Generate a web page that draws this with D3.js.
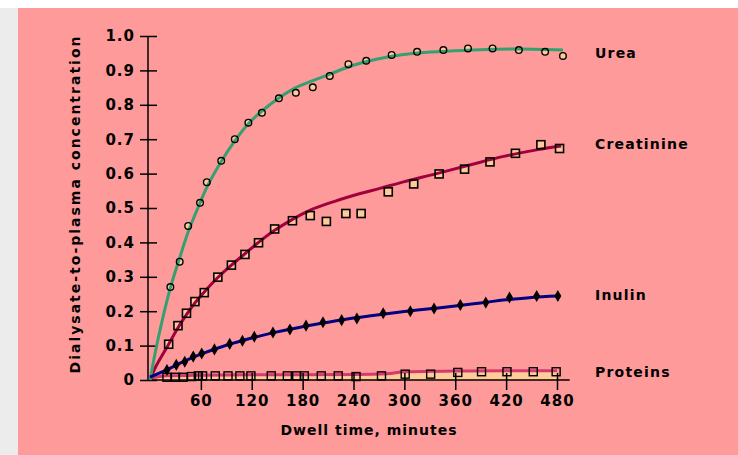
<!DOCTYPE html>
<html>
<head>
<meta charset="utf-8">
<script src="https://cdn.jsdelivr.net/npm/d3@7"></script>
<style>
  body { margin: 0; background: #fff; }
  text { font-family: "DejaVu Sans", sans-serif; font-weight: bold; fill: #000; }
</style>
</head>
<body>
<script>
// Dialysate-to-plasma concentration over dwell time (minutes)

// measured points
const ureaT = [24, 35, 45, 59, 67, 84, 100, 116, 132, 152, 172, 192, 212, 234, 255, 285, 315, 346, 375, 404, 435, 466, 487];
const ureaV = [0.27, 0.344, 0.448, 0.515, 0.575, 0.637, 0.70, 0.748, 0.777, 0.819, 0.835, 0.851, 0.884, 0.918, 0.928, 0.945, 0.954, 0.959, 0.964, 0.964, 0.959, 0.954, 0.942];

const creatT = [22, 33, 43, 53, 64, 80, 96, 112, 128, 147, 168, 189, 208, 231, 249, 281, 311, 341, 371, 401, 431, 461, 483];
const creatV = [0.104, 0.158, 0.194, 0.228, 0.254, 0.299, 0.334, 0.365, 0.399, 0.439, 0.463, 0.478, 0.461, 0.484, 0.484, 0.547, 0.570, 0.599, 0.613, 0.634, 0.659, 0.684, 0.673];

const inulinT = [20, 31, 41, 51, 61, 76, 94, 109, 123, 145, 165, 184, 204, 226, 244, 275, 307, 335, 366, 396, 424, 456, 481];
const inulinV = [0.029, 0.044, 0.053, 0.068, 0.077, 0.089, 0.105, 0.114, 0.126, 0.138, 0.147, 0.158, 0.168, 0.174, 0.179, 0.194, 0.200, 0.208, 0.218, 0.225, 0.240, 0.244, 0.244];

const protT = [20, 30, 39, 49, 57, 62, 77, 92, 106, 119, 143, 162, 173, 182, 202, 222, 243, 273, 301, 331, 363, 391, 421, 452, 479];
const protV = [0.008, 0.008, 0.008, 0.01, 0.012, 0.012, 0.012, 0.012, 0.012, 0.012, 0.012, 0.012, 0.012, 0.012, 0.012, 0.012, 0.01, 0.012, 0.017, 0.017, 0.022, 0.024, 0.024, 0.024, 0.024];

// fitted curves
const ureaFitT = [0, 10, 24, 35, 45, 59, 67, 84, 100, 116, 132, 152, 172, 192, 213, 240, 279, 318, 358, 397, 436, 487];
const ureaFitV = [0, 0.125, 0.268, 0.355, 0.43, 0.515, 0.56, 0.635, 0.695, 0.745, 0.782, 0.82, 0.85, 0.87, 0.89, 0.915, 0.938, 0.951, 0.957, 0.961, 0.962, 0.959];

const creatFitT = [0, 6, 22, 33, 43, 53, 64, 80, 96, 112, 128, 147, 168, 189, 216, 248, 271, 299, 338, 377, 417, 456, 485];
const creatFitV = [0, 0.035, 0.104, 0.152, 0.19, 0.224, 0.256, 0.298, 0.334, 0.367, 0.40, 0.435, 0.467, 0.494, 0.518, 0.542, 0.557, 0.576, 0.60, 0.625, 0.65, 0.669, 0.68];

const inulinFitT = [0, 20, 40, 60, 90, 120, 150, 180, 210, 240, 270, 300, 330, 360, 390, 420, 450, 481];
const inulinFitV = [0.008, 0.03, 0.054, 0.075, 0.101, 0.122, 0.140, 0.155, 0.168, 0.180, 0.190, 0.199, 0.207, 0.215, 0.224, 0.233, 0.240, 0.244];

const protFitT = [0, 20, 60, 120, 240, 280, 300, 360, 420, 480];
const protFitV = [0.004, 0.012, 0.014, 0.015, 0.016, 0.018, 0.024, 0.026, 0.027, 0.027];

const xTicks = [60, 120, 180, 240, 300, 360, 420, 480];
const yTicks = [0, 0.1, 0.2, 0.3, 0.4, 0.5, 0.6, 0.7, 0.8, 0.9, 1.0];

const labels = [
    { name: "Urea", y: 58 },
    { name: "Creatinine", y: 149 },
    { name: "Inulin", y: 300 },
    { name: "Proteins", y: 377 }
];

const width = 738, height = 455;

const svg = d3.select("body").append("svg")
    .attr("width", width)
    .attr("height", height);

// page backdrop
svg.append("rect").attr("x", 0).attr("y", 8).attr("width", 18).attr("height", height - 8).attr("fill", "#ececec");
svg.append("rect").attr("x", 18).attr("y", 8).attr("width", width - 18).attr("height", height - 8).attr("fill", "#fe9a9a");

const x = d3.scaleLinear().domain([0, 480]).range([150, 557]);
const y = d3.scaleLinear().domain([0, 1]).range([380, 36]);

const zip = (ts, vs) => ts.map((t, i) => ({ t, v: vs[i] }));

const line = d3.line()
    .x(d => x(d.t))
    .y(d => y(d.v))
    .curve(d3.curveCatmullRom.alpha(0.5));

// protein band under the curve
const protFit = zip(protFitT, protFitV);
svg.append("path")
    .datum(protFit)
    .attr("fill", "#ffcc99")
    .attr("d", d3.area().x(d => x(d.t)).y0(y(0)).y1(d => y(d.v)).curve(d3.curveMonotoneX));
svg.append("path")
    .datum(protFit)
    .attr("fill", "none")
    .attr("stroke", "#d43a6e")
    .attr("stroke-width", 3)
    .attr("d", line.curve(d3.curveMonotoneX));
line.curve(d3.curveCatmullRom.alpha(0.5));

// axes
const yAxis = svg.append("g")
    .attr("transform", `translate(148,0)`)
    .call(d3.axisLeft(y).tickValues(yTicks).tickSize(8).tickPadding(5)
        .tickFormat(d => d === 0 ? "0" : d.toFixed(1)));
yAxis.select(".domain").remove();
yAxis.selectAll(".tick line").attr("x1", 9).attr("stroke-width", 1.5);
yAxis.selectAll("text").style("font-size", "15px").attr("letter-spacing", 1);
yAxis.append("line")
    .attr("x1", 0).attr("x2", 0)
    .attr("y1", y(1)).attr("y2", y(0))
    .attr("stroke", "#000").attr("stroke-width", 1.5);

const xAxis = svg.append("g")
    .attr("transform", `translate(0,${y(0)})`)
    .call(d3.axisBottom(x).tickValues(xTicks).tickSize(10).tickPadding(5));
xAxis.select(".domain").remove();
xAxis.selectAll(".tick line").attr("y1", -7).attr("stroke-width", 1.5);
xAxis.selectAll("text").style("font-size", "15px").attr("letter-spacing", 1);
xAxis.append("line")
    .attr("x1", 148).attr("x2", x(495))
    .attr("stroke", "#000").attr("stroke-width", 1.5);

// creatinine: marker fill, line, marker outline
const creat = zip(creatT, creatV);
svg.append("g").selectAll("rect")
    .data(creat)
    .join("rect")
    .attr("x", d => x(d.t) - 4).attr("y", d => y(d.v) - 4)
    .attr("width", 8).attr("height", 8)
    .attr("fill", "#ffcc99");
svg.append("path")
    .datum(zip(creatFitT, creatFitV))
    .attr("fill", "none")
    .attr("stroke", "#a0003c")
    .attr("stroke-width", 3)
    .attr("d", line);
svg.append("g").selectAll("rect")
    .data(creat)
    .join("rect")
    .attr("x", d => x(d.t) - 4).attr("y", d => y(d.v) - 4)
    .attr("width", 8).attr("height", 8)
    .attr("fill", "none").attr("stroke", "#000").attr("stroke-width", 1.6);

// urea
const urea = zip(ureaT, ureaV);
svg.append("g").selectAll("circle")
    .data(urea)
    .join("circle")
    .attr("cx", d => x(d.t)).attr("cy", d => y(d.v)).attr("r", 3.3)
    .attr("fill", "#ffcc99");
svg.append("path")
    .datum(zip(ureaFitT, ureaFitV))
    .attr("fill", "none")
    .attr("stroke", "#35a06f")
    .attr("stroke-width", 3)
    .attr("d", line);
svg.append("g").selectAll("circle")
    .data(urea)
    .join("circle")
    .attr("cx", d => x(d.t)).attr("cy", d => y(d.v)).attr("r", 3.3)
    .attr("fill", "none").attr("stroke", "#000").attr("stroke-width", 1.4);

// inulin
svg.append("path")
    .datum(zip(inulinFitT, inulinFitV))
    .attr("fill", "none")
    .attr("stroke", "#000080")
    .attr("stroke-width", 3)
    .attr("d", line);
svg.append("g").selectAll("path")
    .data(zip(inulinT, inulinV))
    .join("path")
    .attr("transform", d => `translate(${x(d.t)},${y(d.v)})`)
    .attr("d", d3.symbol(d3.symbolDiamond, 42))
    .attr("fill", "#000");

// proteins: open squares
svg.append("g").selectAll("rect")
    .data(zip(protT, protV))
    .join("rect")
    .attr("x", d => x(d.t) - 4).attr("y", d => y(d.v) - 4)
    .attr("width", 8).attr("height", 8)
    .attr("fill", "none").attr("stroke", "#000").attr("stroke-width", 1.4);

// series names
svg.append("g").selectAll("text")
    .data(labels)
    .join("text")
    .attr("x", 595)
    .attr("y", d => d.y)
    .attr("letter-spacing", 1.2)
    .style("font-size", "14px")
    .text(d => d.name);

// axis titles
svg.append("text")
    .attr("x", 369).attr("y", 435)
    .attr("text-anchor", "middle")
    .attr("letter-spacing", 1)
    .style("font-size", "14px")
    .text("Dwell time, minutes");

svg.append("text")
    .attr("transform", "translate(80,204) rotate(-90)")
    .attr("text-anchor", "middle")
    .attr("letter-spacing", 2)
    .style("font-size", "14px")
    .text("Dialysate-to-plasma concentration");
</script>
</body>
</html>
